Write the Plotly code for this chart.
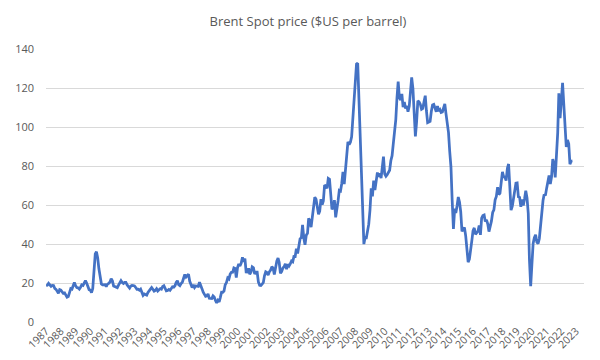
import pandas as pd
import plotly.graph_objects as go

title = "Brent Spot price ($US per barrel)"
start_month = "1987-05-01"

p1987 = [18.58, 18.86, 19.86, 18.98, 18.31, 18.76, 18.70, 17.27]
p1988 = [16.76, 15.73, 14.73, 16.60, 16.31, 15.49, 14.71, 14.95, 13.43, 12.72, 13.05, 15.51]
p1989 = [17.17, 16.89, 18.70, 20.32, 18.63, 17.67, 17.51, 16.89, 17.83, 19.05, 18.75, 19.84]
p1990 = [21.25, 19.81, 18.39, 16.61, 16.35, 15.10, 17.17, 27.17, 34.90, 36.02, 32.82, 27.28]
p1991 = [23.57, 19.54, 19.08, 19.18, 19.19, 18.17, 19.40, 19.77, 20.50, 22.21, 21.11, 18.41]
p1992 = [18.16, 18.05, 17.63, 18.92, 19.89, 21.16, 20.23, 19.74, 20.27, 20.29, 19.02, 18.20]
p1993 = [17.39, 18.45, 18.79, 18.71, 18.54, 17.68, 16.78, 16.84, 16.29, 16.85, 15.14, 13.66]
p1994 = [14.38, 13.80, 13.78, 15.19, 16.31, 16.86, 17.70, 16.79, 15.85, 16.20, 17.02, 15.89]
p1995 = [16.57, 17.12, 16.82, 18.23, 18.60, 17.35, 15.99, 16.12, 16.69, 16.22, 17.00, 18.05]
p1996 = [17.89, 18.60, 20.26, 21.18, 19.17, 18.63, 19.75, 20.40, 22.45, 24.34, 23.10, 23.67]
p1997 = [24.53, 20.87, 19.12, 17.64, 19.10, 17.68, 18.51, 18.51, 18.26, 20.39, 19.08, 17.10]
p1998 = [15.28, 14.07, 13.15, 13.42, 14.38, 12.17, 12.14, 12.02, 13.43, 12.82, 11.06, 9.82]
p1999 = [11.12, 10.27, 12.51, 15.29, 15.23, 15.86, 19.08, 20.22, 22.54, 22.00, 24.58, 25.47]
p2000 = [25.51, 27.78, 27.49, 22.76, 27.74, 29.80, 28.68, 30.20, 33.14, 30.96, 32.55, 25.66]
p2001 = [25.62, 27.50, 24.50, 25.66, 28.31, 27.85, 24.61, 25.68, 25.62, 20.54, 18.80, 18.71]
p2002 = [19.42, 20.28, 23.70, 25.73, 25.35, 24.08, 25.74, 26.65, 28.40, 27.54, 24.34, 28.33]
p2003 = [31.18, 32.77, 30.61, 25.00, 25.86, 27.65, 28.35, 29.89, 27.11, 29.61, 28.75, 29.81]
p2004 = [31.28, 30.86, 33.63, 33.59, 37.57, 35.18, 38.22, 42.74, 43.20, 49.78, 43.11, 39.60]
p2005 = [44.51, 45.48, 53.10, 51.88, 48.65, 54.35, 57.52, 63.98, 62.91, 58.54, 55.24, 56.86]
p2006 = [62.99, 60.21, 62.06, 70.26, 69.78, 68.56, 73.67, 73.23, 61.96, 57.81, 58.76, 62.47]
p2007 = [53.68, 57.56, 62.05, 67.49, 67.21, 71.05, 76.93, 70.76, 77.17, 82.34, 92.41, 90.93]
p2008 = [92.18, 94.99, 103.64, 109.07, 122.80, 132.32, 132.72, 113.24, 97.23, 71.58, 52.45, 39.95]
p2009 = [43.44, 43.32, 46.54, 50.18, 57.30, 68.61, 64.44, 72.51, 67.65, 72.77, 76.66, 74.46]
p2010 = [76.17, 73.75, 78.83, 84.82, 75.95, 74.76, 75.58, 77.04, 77.84, 82.67, 85.28, 91.45]
p2011 = [96.52, 103.72, 114.64, 123.26, 114.99, 113.83, 116.97, 110.22, 112.83, 109.55, 110.77, 107.87]
p2012 = [110.69, 119.33, 125.45, 119.75, 110.34, 95.16, 102.62, 113.36, 112.86, 111.71, 109.06, 109.49]
p2013 = [112.96, 116.05, 108.47, 102.25, 102.56, 102.92, 107.93, 111.28, 111.60, 109.08, 107.79, 110.76]
p2014 = [108.12, 108.90, 107.48, 107.76, 109.54, 111.80, 106.77, 101.61, 97.09, 87.43, 79.44, 62.34]
p2015 = [47.76, 58.10, 55.89, 59.52, 64.08, 61.48, 56.56, 46.52, 47.62, 48.43, 44.27, 38.01]
p2016 = [30.70, 32.18, 38.21, 41.58, 46.74, 48.25, 44.95, 45.84, 46.57, 49.52, 44.73, 53.31]
p2017 = [54.58, 54.87, 51.59, 52.31, 50.33, 46.37, 48.48, 51.70, 56.15, 57.51, 62.71, 64.37]
p2018 = [69.08, 65.32, 66.02, 72.11, 76.98, 74.41, 74.25, 72.53, 78.89, 81.03, 64.75, 57.36]
p2019 = [59.41, 63.96, 66.14, 71.23, 71.32, 64.22, 63.92, 59.04, 62.83, 59.71, 63.21, 67.31]
p2020 = [63.65, 55.66, 32.01, 18.38, 29.38, 40.27, 43.24, 44.74, 40.91, 40.19, 42.69, 49.99]
p2021 = [54.77, 62.28, 65.41, 64.81, 68.53, 73.16, 75.17, 70.75, 74.49, 83.54, 81.05, 74.17]
p2022 = [86.51, 97.13, 117.25, 104.58, 113.34, 122.71, 111.93, 100.45, 89.76, 93.33, 91.42, 80.92]
p2023 = [82.50, 82.59]

prices = (p1987 + p1988 + p1989 + p1990 + p1991 + p1992 + p1993 + p1994 + p1995
          + p1996 + p1997 + p1998 + p1999 + p2000 + p2001 + p2002 + p2003 + p2004
          + p2005 + p2006 + p2007 + p2008 + p2009 + p2010 + p2011 + p2012 + p2013
          + p2014 + p2015 + p2016 + p2017 + p2018 + p2019 + p2020 + p2021 + p2022
          + p2023)
dates = pd.date_range(start_month, periods=len(prices), freq="MS")

year_labels = [str(y) for y in range(1987, 2024)]
tick_dates = [f"{y}-05-01" for y in range(1987, 2024)]

fig = go.Figure()
fig.add_trace(go.Scatter(
    x=dates, y=prices, mode="lines",
    line=dict(color="#4472C4", width=2.75),
    hoverinfo="skip", showlegend=False,
))

fig.update_layout(
    width=600, height=360,
    margin=dict(l=38, r=24, t=41, b=46),
    paper_bgcolor="white", plot_bgcolor="white",
    font=dict(family="Open Sans, Liberation Sans, sans-serif", color="#595959", size=11),
    title=dict(text=title, x=0.5, xanchor="center", y=0.962, yanchor="middle",
               font=dict(size=13, color="#595959")),
)
fig.update_xaxes(
    type="date",
    range=["1987-04-28", "2023-11-15"],
    tickvals=tick_dates, ticktext=year_labels,
    tickangle=-45, showgrid=False, zeroline=False,
    showline=False, ticks="", automargin=False,
    tickfont=dict(size=10.5, color="#595959"),
)
fig.update_yaxes(
    range=[0, 140], dtick=20, tick0=0,
    showgrid=True, gridcolor="#D9D9D9", gridwidth=1,
    zeroline=False, showline=False, ticks="", automargin=False,
    ticklabelstandoff=11,
    tickfont=dict(size=11, color="#595959"),
)

fig.write_html("out.html")
